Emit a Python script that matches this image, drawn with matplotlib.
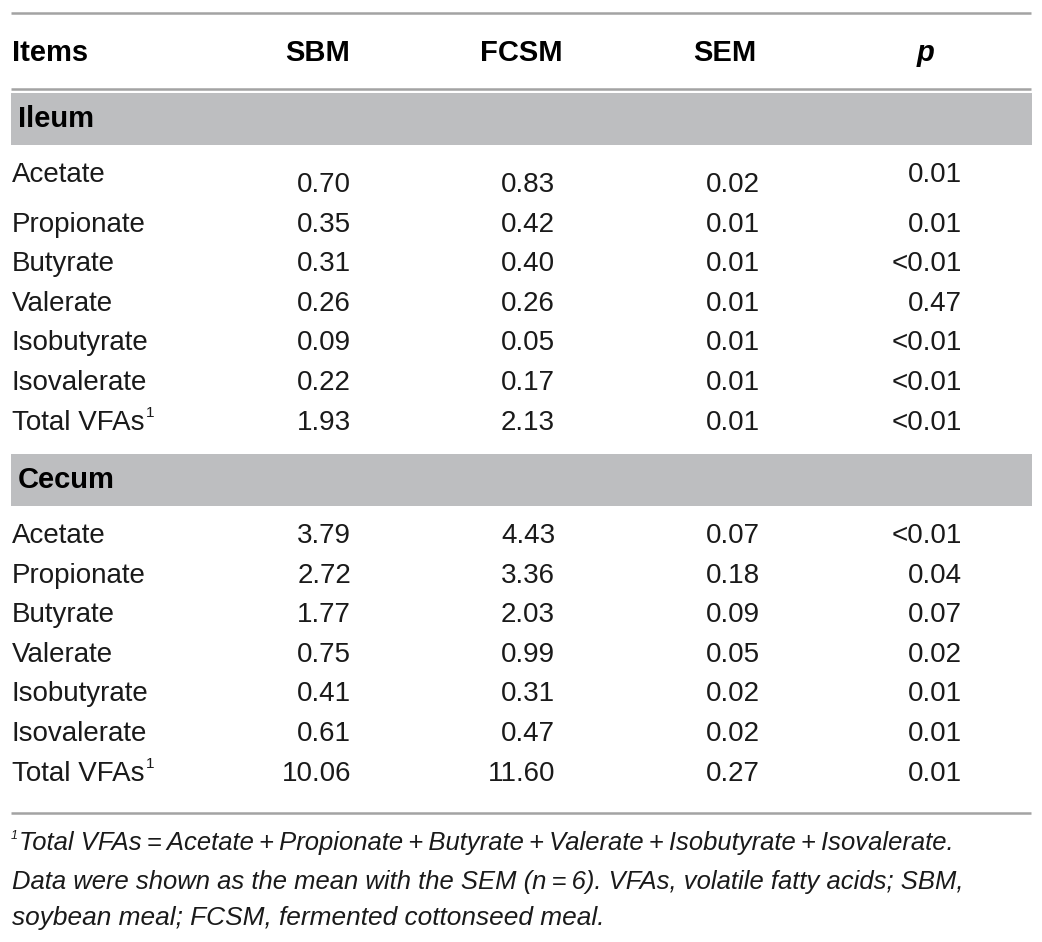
import matplotlib
matplotlib.use("Agg")
import matplotlib.pyplot as plt
from matplotlib import font_manager

W, H = 1042, 942

headers = ["Items", "SBM", "FCSM", "SEM", "p"]
sections = ["Ileum", "Cecum"]
items = ["Acetate", "Propionate", "Butyrate", "Valerate", "Isobutyrate", "Isovalerate", "Total VFAs"]

ileum_sbm = ["0.70", "0.35", "0.31", "0.26", "0.09", "0.22", "1.93"]
ileum_fcsm = ["0.83", "0.42", "0.40", "0.26", "0.05", "0.17", "2.13"]
ileum_sem = ["0.02", "0.01", "0.01", "0.01", "0.01", "0.01", "0.01"]
ileum_p = ["0.01", "0.01", "<0.01", "0.47", "<0.01", "<0.01", "<0.01"]

cecum_sbm = ["3.79", "2.72", "1.77", "0.75", "0.41", "0.61", "10.06"]
cecum_fcsm = ["4.43", "3.36", "2.03", "0.99", "0.31", "0.47", "11.60"]
cecum_sem = ["0.07", "0.18", "0.09", "0.05", "0.02", "0.02", "0.27"]
cecum_p = ["<0.01", "0.04", "0.07", "0.02", "0.01", "0.01", "0.01"]

notes = [
    "Total VFAs\u2009=\u2009Acetate\u2009+\u2009Propionate\u2009+\u2009Butyrate\u2009+\u2009Valerate\u2009+\u2009Isobutyrate\u2009+\u2009Isovalerate.",
    "Data were shown as the mean with the SEM (n\u2009=\u20096). VFAs, volatile fatty acids; SBM,",
    "soybean meal; FCSM, fermented cottonseed meal.",
]

names = {f.name for f in font_manager.fontManager.ttflist}
body_font = ["Liberation Sans", "DejaVu Sans"]
note_font = (["Liberation Sans Narrow"] if "Liberation Sans Narrow" in names else []) + ["Liberation Sans", "DejaVu Sans"]

fig = plt.figure(figsize=(W / 100, H / 100), dpi=100)
ax = fig.add_axes([0, 0, 1, 1])
ax.set_xlim(0, W)
ax.set_ylim(H, 0)
ax.axis("off")

line_col = "#a3a3a3"
band_col = "#bdbec0"
txt_col = "#1a1a1a"
fs = 20
hfs = 21

# rules
for y in (13, 89, 813):
    ax.plot([11, 1031], [y, y], color=line_col, lw=1.8, solid_capstyle="butt")

# header
ax.text(12, 53, headers[0], fontsize=hfs, fontweight="bold", family=body_font, va="center", color="black")
hx = [318, 521, 725]
for x, h in zip(hx, headers[1:4]):
    ax.text(x, 53, h, fontsize=hfs, fontweight="bold", family=body_font, va="center", ha="center", color="black")
ax.text(926, 53, headers[4], fontsize=hfs, fontweight="bold", style="italic", family=body_font,
        va="center", ha="center", color="black")

col_right = [351, 555, 760, 962]
fig.canvas.draw()
renderer = fig.canvas.get_renderer()


def sup_label(x, y, s):
    t = ax.text(x, y, s, fontsize=fs, family=body_font, va="center", color=txt_col)
    bb = t.get_window_extent(renderer=renderer)
    xr = ax.transData.inverted().transform((bb.x1, bb.y0))[0]
    ax.text(xr + 1, y - 10, "1", fontsize=11, family=body_font, va="center", color=txt_col)


blocks = [
    (sections[0], 93, 145, 185, [ileum_sbm, ileum_fcsm, ileum_sem, ileum_p]),
    (sections[1], 454, 506, 536, [cecum_sbm, cecum_fcsm, cecum_sem, cecum_p]),
]
step = 39.6
for bi, (name, y0, y1, ystart, cols) in enumerate(blocks):
    ax.fill_between([11, 1032], y0, y1, color=band_col, lw=0)
    ax.text(18, (y0 + y1) / 2, name, fontsize=hfs, fontweight="bold", family=body_font, va="center", color="black")
    for i, it in enumerate(items):
        y = ystart + i * step
        ylab = y - 10 if (bi == 0 and i == 0) else y
        if it.startswith("Total"):
            sup_label(12, y, it)
        else:
            ax.text(12, ylab, it, fontsize=fs, family=body_font, va="center", color=txt_col)
        for ci, (xr, col) in enumerate(zip(col_right, cols)):
            yy = ylab if ci == 3 else y
            ax.text(xr, yy, col[i], fontsize=fs, family=body_font, va="center", ha="right", color=txt_col)

# footnotes, scaled to the reference line widths
note_y = [843, 882, 918]
note_w = [933, 948, 591]
note_x = [19, 12, 12]
for txt, y, w, x in zip(notes, note_y, note_w, note_x):
    t = ax.text(x, y, txt, fontsize=fs, style="italic", family=note_font, va="center", color=txt_col)
    bb = t.get_window_extent(renderer=renderer)
    t.set_fontsize(fs * w / bb.width)
ax.text(11, 836, "1", fontsize=9, style="italic", family=note_font, va="center", color=txt_col)

fig.savefig("out.png", dpi=100, facecolor="white")
